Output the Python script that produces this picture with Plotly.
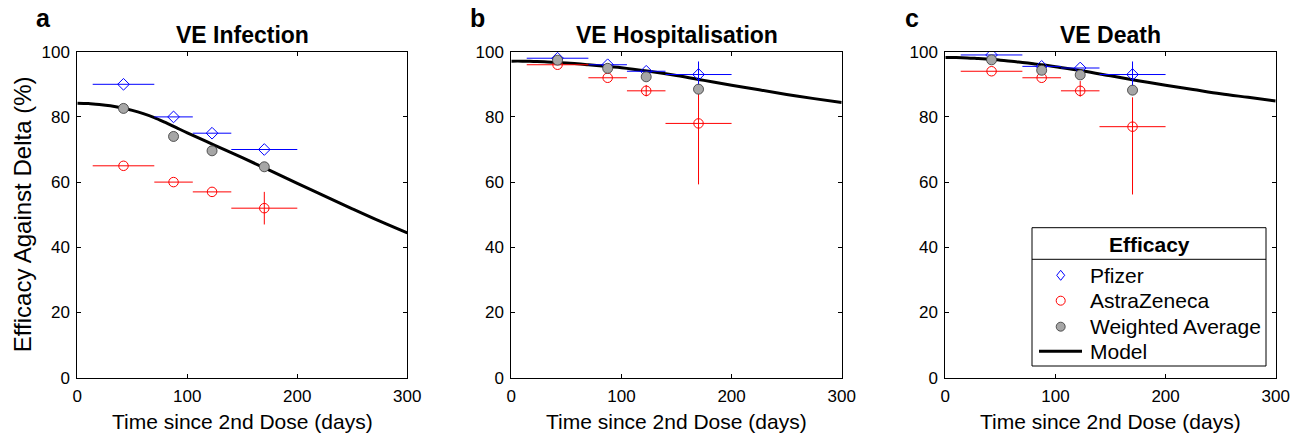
import plotly.graph_objects as go

# ---------------- data ----------------
days = [42, 87.5, 122.5, 170]
days_lo = [14, 70, 105, 140]
days_hi = [70, 105, 140, 200]

panel_titles = ["VE Infection", "VE Hospitalisation", "VE Death"]
panel_letters = ["a", "b", "c"]
legend_labels = ["Pfizer", "AstraZeneca", "Weighted Average", "Model"]

# Infection
inf_pfizer = [90, 80, 75, 70]
inf_pfizer_lo = [90, 80, 75, 70]
inf_pfizer_hi = [90, 80, 75, 70]
inf_az = [65, 60, 57, 52]
inf_az_lo = [65, 60, 57, 47]
inf_az_hi = [65, 60, 57, 57]
inf_weighted = [82.6, 74.0, 69.6, 64.7]

# Hospitalisation
hosp_pfizer = [98, 96, 94, 93]
hosp_pfizer_lo = [98, 96, 94, 89]
hosp_pfizer_hi = [98, 96, 94, 97]
hosp_az = [96, 92, 88, 78]
hosp_az_lo = [96, 92, 86.3, 59.3]
hosp_az_hi = [96, 92, 89.8, 87]
hosp_weighted = [97.4, 94.9, 92.3, 88.5]

# Death
death_pfizer = [99, 95.5, 95, 93]
death_pfizer_lo = [99, 95.5, 95, 89]
death_pfizer_hi = [99, 95.5, 95, 97]
death_az = [94, 92, 88, 77]
death_az_lo = [94, 92, 86.2, 56.2]
death_az_hi = [94, 92, 91, 86]
death_weighted = [97.5, 94.3, 92.9, 88.2]

# Model curves
model_days = [0, 10, 20, 30, 40, 50, 60, 70, 80, 90, 100, 125, 150, 175, 200, 225, 250, 275, 300]
inf_model = [84.2, 84.1, 83.8, 83.4, 82.8, 82.0, 81.0, 79.8, 78.3, 76.7, 75.1, 71.3, 67.5, 63.6,
             59.6, 55.7, 51.8, 48.0, 44.4]
hosp_model = [97.1, 97.1, 97.0, 96.9, 96.7, 96.5, 96.3, 96.0, 95.7, 95.4, 95.1, 94.0, 92.7, 91.2,
              89.7, 88.3, 86.9, 85.6, 84.4]
death_model = [98.2, 98.2, 98.1, 97.9, 97.7, 97.4, 97.1, 96.7, 96.3, 95.9, 95.4, 94.1, 92.6, 91.1,
               89.7, 88.4, 87.1, 86.0, 84.9]

x_ticks = [0, 100, 200, 300]
y_ticks = [0, 20, 40, 60, 80, 100]

panels = [
    (inf_pfizer, inf_pfizer_lo, inf_pfizer_hi, inf_az, inf_az_lo, inf_az_hi, inf_weighted, inf_model),
    (hosp_pfizer, hosp_pfizer_lo, hosp_pfizer_hi, hosp_az, hosp_az_lo, hosp_az_hi, hosp_weighted, hosp_model),
    (death_pfizer, death_pfizer_lo, death_pfizer_hi, death_az, death_az_lo, death_az_hi, death_weighted, death_model),
]

# ---------------- styles ----------------
BLUE, RED, GREY, EDGE = "#0000ff", "#ff0000", "#a6a6a6", "#333333"

# ---------------- layout geometry ----------------
W, H = 1298, 433
FONT = "Liberation Sans, Arial, Helvetica, sans-serif"
x_px = [(77.3, 407.3), (511.3, 841.7), (945.3, 1275.7)]
y_top, y_bot = 51.7, 377.7
y_dom = [1 - y_bot / H, 1 - y_top / H]


def px(x):
    return x / W


def py(y):
    return 1 - y / H


fig = go.Figure()


def errs(vals, lo, hi):
    return [h - v for v, h in zip(vals, hi)], [v - l for v, l in zip(vals, lo)]


xerr_plus = [h - d for d, h in zip(days, days_hi)]
xerr_minus = [d - l for d, l in zip(days, days_lo)]

for i, (pf, pf_lo, pf_hi, az, az_lo, az_hi, wa, mdl) in enumerate(panels):
    xa = "x" if i == 0 else f"x{i+1}"
    ya = "y" if i == 0 else f"y{i+1}"
    fig.add_trace(go.Scatter(
        x=model_days, y=mdl, mode="lines", xaxis=xa, yaxis=ya,
        line=dict(color="black", width=3, shape="spline", smoothing=1.0),
        name="Model", showlegend=False))
    p_plus, p_minus = errs(pf, pf_lo, pf_hi)
    fig.add_trace(go.Scatter(
        x=days, y=pf, mode="markers", xaxis=xa, yaxis=ya,
        marker=dict(symbol="diamond-open", color=BLUE, size=9, line=dict(width=1)),
        error_x=dict(type="data", symmetric=False, array=xerr_plus, arrayminus=xerr_minus,
                     color=BLUE, thickness=1, width=0),
        error_y=dict(type="data", symmetric=False, array=p_plus, arrayminus=p_minus,
                     color=BLUE, thickness=1, width=0),
        name="Pfizer", showlegend=False))
    a_plus, a_minus = errs(az, az_lo, az_hi)
    fig.add_trace(go.Scatter(
        x=days, y=az, mode="markers", xaxis=xa, yaxis=ya,
        marker=dict(symbol="circle-open", color=RED, size=9.5, line=dict(width=1)),
        error_x=dict(type="data", symmetric=False, array=xerr_plus, arrayminus=xerr_minus,
                     color=RED, thickness=1, width=0),
        error_y=dict(type="data", symmetric=False, array=a_plus, arrayminus=a_minus,
                     color=RED, thickness=1, width=0),
        name="AstraZeneca", showlegend=False))
    fig.add_trace(go.Scatter(
        x=days, y=wa, mode="markers", xaxis=xa, yaxis=ya,
        marker=dict(symbol="circle", color=GREY, size=10, line=dict(color=EDGE, width=0.8)),
        name="Weighted Average", showlegend=False))

axis_common = dict(
    showline=True, linecolor="black", linewidth=1, mirror="ticks",
    ticks="inside", ticklen=4, tickcolor="black", tickwidth=1,
    showgrid=False, zeroline=False,
    tickfont=dict(family=FONT, size=17, color="black"),
)
layout_axes = {}
for i in range(3):
    xk = "xaxis" if i == 0 else f"xaxis{i+1}"
    yk = "yaxis" if i == 0 else f"yaxis{i+1}"
    layout_axes[xk] = dict(axis_common, domain=[px(x_px[i][0]), px(x_px[i][1])],
                           range=[0, 300], tickvals=x_ticks, anchor="y" if i == 0 else f"y{i+1}",
                           ticklabelstandoff=3)
    layout_axes[yk] = dict(axis_common, domain=y_dom, range=[0, 100], tickvals=y_ticks,
                           anchor="x" if i == 0 else f"x{i+1}", ticklabelstandoff=3)

annotations = []
for i in range(3):
    cx = px((x_px[i][0] + x_px[i][1]) / 2)
    annotations.append(dict(text=f"<b>{panel_titles[i]}</b>", x=cx, y=py(35),
                            xref="paper", yref="paper", xanchor="center", yanchor="middle",
                            showarrow=False, font=dict(family=FONT, size=23, color="black")))
    annotations.append(dict(text="Time since 2nd Dose (days)", x=cx, y=py(421),
                            xref="paper", yref="paper", xanchor="center", yanchor="middle",
                            showarrow=False, font=dict(family=FONT, size=21, color="black")))
letter_x = [43, 477, 912]
for i in range(3):
    annotations.append(dict(text=f"<b>{panel_letters[i]}</b>", x=px(letter_x[i]), y=py(18),
                            xref="paper", yref="paper", xanchor="center", yanchor="middle",
                            showarrow=False, font=dict(family=FONT, size=25, color="black")))
annotations.append(dict(text="Efficacy Against Delta (%)", x=px(22.5), y=(y_dom[0] + y_dom[1]) / 2,
                        xref="paper", yref="paper", xanchor="center", yanchor="middle",
                        textangle=-90, showarrow=False, font=dict(family=FONT, size=24, color="black")))

# ---------------- legend (drawn as a boxed key in panel c) ----------------
LX0, LX1, LY0, LY1 = 1032, 1266, 227.7, 366
sep_y = 259.3
entry_y = [275.3, 300.7, 326.7, 351.3]
sym_x, text_x = 1060.7, 1088.3

annotations.append(dict(text="<b>Efficacy</b>", x=px((LX0 + LX1) / 2), y=py(244.5),
                        xref="paper", yref="paper", xanchor="center", yanchor="middle",
                        showarrow=False, font=dict(family=FONT, size=21, color="black")))
for lab, ey in zip(legend_labels, entry_y):
    annotations.append(dict(text=lab, x=px(text_x), y=py(ey), xref="paper", yref="paper",
                            xanchor="left", yanchor="middle", showarrow=False,
                            font=dict(family=FONT, size=21, color="black")))

shapes = [
    dict(type="rect", xref="paper", yref="paper", x0=px(LX0), x1=px(LX1), y0=py(LY1), y1=py(LY0),
         line=dict(color="black", width=1), fillcolor="white", layer="above"),
    dict(type="line", xref="paper", yref="paper", x0=px(LX0), x1=px(LX1), y0=py(sep_y), y1=py(sep_y),
         line=dict(color="black", width=1), layer="above"),
]
# Pfizer key: open diamond
cy = entry_y[0]
shapes.append(dict(type="path", xref="paper", yref="paper", layer="above",
                   path=f"M {px(sym_x)} {py(cy - 5)} L {px(sym_x + 4)} {py(cy)} L {px(sym_x)} {py(cy + 5)} "
                        f"L {px(sym_x - 4)} {py(cy)} Z",
                   line=dict(color=BLUE, width=1)))
# AstraZeneca key: open circle
cy = entry_y[1]
shapes.append(dict(type="circle", xref="paper", yref="paper", layer="above",
                   x0=px(sym_x - 4.5), x1=px(sym_x + 4.5), y0=py(cy + 4.5), y1=py(cy - 4.5),
                   line=dict(color=RED, width=1)))
# Weighted average key: filled grey circle
cy = entry_y[2]
shapes.append(dict(type="circle", xref="paper", yref="paper", layer="above",
                   x0=px(sym_x - 4.5), x1=px(sym_x + 4.5), y0=py(cy + 4.5), y1=py(cy - 4.5),
                   line=dict(color=EDGE, width=0.8), fillcolor=GREY))
# Model key: thick black line
cy = entry_y[3]
shapes.append(dict(type="line", xref="paper", yref="paper", layer="above",
                   x0=px(1039), x1=px(1082), y0=py(cy), y1=py(cy),
                   line=dict(color="black", width=3)))

fig.update_layout(
    template="none",
    width=W, height=H, autosize=False,
    margin=dict(l=0, r=0, t=0, b=0),
    paper_bgcolor="white", plot_bgcolor="white",
    font=dict(family=FONT, color="black"),
    showlegend=False,
    annotations=annotations,
    shapes=shapes,
    **layout_axes,
)

fig.write_html("out.html", config={"displayModeBar": False},
               post_script="document.body.style.margin='0';document.body.style.padding='0';")
